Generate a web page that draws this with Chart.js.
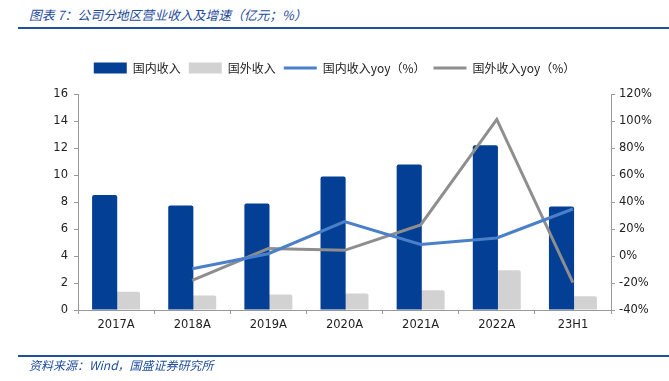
<!DOCTYPE html>
<html>
<head>
<meta charset="utf-8">
<script src="https://cdn.jsdelivr.net/npm/chart.js@4/dist/chart.umd.min.js"></script>
<style>
  html, body { margin: 0; padding: 0; background: #fff; }
  #wrap { position: relative; width: 669px; height: 381px; overflow: hidden; }
  #chartBox { position: absolute; left: 0; top: 0; width: 669px; height: 381px; }
  .cap {
    position: absolute; left: 29px; font-style: italic; color: #1E4C9C;
    font-family: "Noto Sans CJK SC", "DejaVu Sans", sans-serif; white-space: nowrap;
  }
  #title { top: 5px; font-size: 12.8px; }
  #foot { top: 356px; font-size: 12px; }
  .rule { position: absolute; left: 18px; right: 0; height: 2px; background: #1F4E9F; }
</style>
</head>
<body>
<div id="wrap">
  <div id="title" class="cap">图表 7：公司分地区营业收入及增速（亿元；%）</div>
  <div class="rule" style="top:27px"></div>
  <div id="chartBox"><canvas id="c"></canvas></div>
  <div class="rule" style="top:355px"></div>
  <div id="foot" class="cap">资料来源：Wind，国盛证券研究所</div>
</div>
<script>
// ===== DATA =====
const categories = ['2017A', '2018A', '2019A', '2020A', '2021A', '2022A', '23H1'];
const domesticRev = [8.52, 7.75, 7.89, 9.88, 10.77, 12.2, 7.67];     // 亿元
const foreignRev  = [1.35, 1.08, 1.15, 1.23, 1.47, 2.95, 1.01];      // 亿元
const domesticYoy = [null, -9.5, 1.7, 25.5, 8.6, 13.4, 34.8];         // %
const foreignYoy  = [null, -18.0, 5.5, 4.2, 23.0, 101.2, -19.8];      // %
const seriesNames = ['国内收入', '国外收入', '国内收入yoy（%）', '国外收入yoy（%）'];
const leftTicks  = { min: 0, max: 16, step: 2 };
const rightTicks = { min: -40, max: 120, step: 20 };

const tickFont = { family: '"DejaVu Sans", sans-serif', size: 11.5 };
const axisGray = '#9a9a9a';

// extra gap between legend and plot area
const legendGap = {
  id: 'legendGap',
  beforeInit(chart) {
    const fit = chart.legend.fit;
    chart.legend.fit = function () {
      fit.bind(chart.legend)();
      this.height += 10;
    };
  }
};

new Chart(document.getElementById('c'), {
  data: {
    labels: categories,
    datasets: [
      { type: 'bar', label: seriesNames[0], data: domesticRev, yAxisID: 'y',
        backgroundColor: '#023F95', borderWidth: 0, borderRadius: 2, order: 1,
        pointStyle: 'rect', categoryPercentage: 0.6, barPercentage: 1.1 },
      { type: 'bar', label: seriesNames[1], data: foreignRev, yAxisID: 'y',
        backgroundColor: '#D2D2D2', borderWidth: 0, borderRadius: 2, order: 1,
        pointStyle: 'rect', categoryPercentage: 0.6, barPercentage: 1.1 },
      { type: 'line', label: seriesNames[2], data: domesticYoy, yAxisID: 'y1',
        borderColor: '#4A7FC9', backgroundColor: '#4A7FC9', borderWidth: 3,
        pointRadius: 0, tension: 0, order: 0, pointStyle: 'line' },
      { type: 'line', label: seriesNames[3], data: foreignYoy, yAxisID: 'y1',
        borderColor: '#8E8E8E', backgroundColor: '#8E8E8E', borderWidth: 3,
        pointRadius: 0, tension: 0, order: 0, pointStyle: 'line' }
    ]
  },
  plugins: [legendGap],
  options: {
    responsive: true,
    maintainAspectRatio: false,
    animation: false,
    layout: { padding: { top: 54, bottom: 41, left: 0, right: 0 } },
    plugins: {
      tooltip: { enabled: false },
      legend: {
        position: 'top',
        labels: {
          usePointStyle: true, pointStyleWidth: 33, boxHeight: 11, padding: 8,
          color: '#222',
          font: { family: '"Noto Sans CJK SC", "DejaVu Sans", sans-serif', size: 12 },
          sort: (a, b) => a.datasetIndex - b.datasetIndex
        }
      }
    },
    scales: {
      x: {
        grid: { drawOnChartArea: false, color: axisGray, tickLength: 4, offset: true },
        border: { color: axisGray },
        ticks: { color: '#222', font: tickFont, padding: 4 },
        afterFit: s => { s.height = 30; }
      },
      y: {
        position: 'left', min: leftTicks.min, max: leftTicks.max,
        grid: { drawOnChartArea: false, color: axisGray, tickLength: 4 },
        border: { color: axisGray },
        ticks: { stepSize: leftTicks.step, color: '#222', font: tickFont, padding: 6 },
        afterFit: s => { s.width = 78; }
      },
      y1: {
        position: 'right', min: rightTicks.min, max: rightTicks.max,
        grid: { drawOnChartArea: false, color: axisGray, tickLength: 4 },
        border: { color: axisGray },
        ticks: { stepSize: rightTicks.step, color: '#222', font: tickFont, padding: 4,
                 callback: v => v + '%' },
        afterFit: s => { s.width = 58; }
      }
    }
  }
});
</script>
</body>
</html>
